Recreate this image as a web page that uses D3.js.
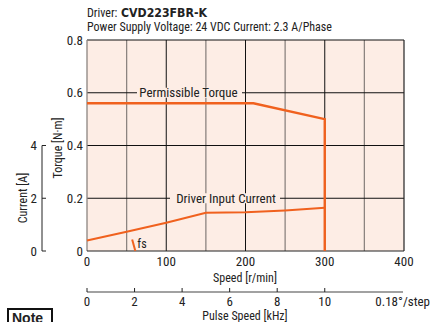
<!DOCTYPE html>
<html><head><meta charset="utf-8">
<script src="https://cdn.jsdelivr.net/npm/d3@7"></script>
<style>
body{margin:0;background:#fff;}
svg text{font-family:"Liberation Sans Narrow","Arial Narrow","Roboto Condensed",Roboto,sans-serif;fill:#222;}
</style></head><body>
<svg id="c" width="432" height="322"></svg>
<script>
const speedTicks=[0,100,200,300,400];
const torqueTicks=[0,0.2,0.4,0.6,0.8];
const currentTicks=[0,2,4];
const pulseTicks=[0,2,4,6,8,10];
const torqueSpeed=[0,210,300,300];
const torqueVals=[0.56,0.56,0.50,0];
const currentSpeed=[0,50,100,150,200,250,300];
const currentVals=[0.40,0.73,1.07,1.45,1.47,1.54,1.64];
const fsSpeed=[57,61];
const fsTorque=[0.044,0];

const svg=d3.select("#c");
const L=87,R=404,T=40,B=251;
const x=d3.scaleLinear().domain([0,400]).range([L,R]);
const y=d3.scaleLinear().domain([0,0.8]).range([B,T]);
const yc=d3.scaleLinear().domain([0,8]).range([B,T]);
const xp=d3.scaleLinear().domain([0,10*400/300]).range([L,R]);
const orange="#f0611e";

svg.append("rect").attr("x",L).attr("y",T).attr("width",R-L).attr("height",B-T).attr("fill","#fdede5");
d3.range(50,400,50).forEach(v=>{
  svg.append("line").attr("x1",x(v)).attr("x2",x(v)).attr("y1",T).attr("y2",B)
    .attr("stroke",v%100===0?"#111":"#8c8480").attr("stroke-width",v%100===0?1:1.3);
});
[0.2,0.4,0.6,0.8].forEach(v=>{
  svg.append("line").attr("x1",L).attr("x2",R).attr("y1",y(v)).attr("y2",y(v)).attr("stroke","#111").attr("stroke-width",1);
});
svg.append("line").attr("x1",L).attr("x2",L).attr("y1",T).attr("y2",B).attr("stroke","#8c8480").attr("stroke-width",1.3);
svg.append("line").attr("x1",R).attr("x2",R).attr("y1",T).attr("y2",B).attr("stroke","#222").attr("stroke-width",1.2);
svg.append("line").attr("x1",L).attr("x2",R).attr("y1",B).attr("y2",B).attr("stroke","#222").attr("stroke-width",1.2);

function gridLabel(txt,cx,cy,x0,x1){
  svg.append("rect").attr("x",x0).attr("y",cy-5).attr("width",x1-x0).attr("height",10).attr("fill","#fdede5");
  svg.append("text").attr("x",cx).attr("y",cy+4.5).attr("text-anchor","middle").attr("font-size",13).text(txt);
}
gridLabel("Permissible Torque",188.5,y(0.6),137,242);
gridLabel("Driver Input Current",226,y(0.2),170,280);

const lineT=d3.line().x((d,i)=>x(torqueSpeed[i])).y(d=>y(d));
svg.append("path").attr("d",lineT(torqueVals)).attr("fill","none").attr("stroke",orange).attr("stroke-width",2.4);
const lineC=d3.line().x((d,i)=>x(currentSpeed[i])).y(d=>yc(d));
svg.append("path").attr("d",lineC(currentVals)).attr("fill","none").attr("stroke",orange).attr("stroke-width",2);
const lineF=d3.line().x((d,i)=>x(fsSpeed[i])).y(d=>y(d));
svg.append("path").attr("d",lineF(fsTorque)).attr("fill","none").attr("stroke",orange).attr("stroke-width",2);
svg.append("text").attr("x",x(fsSpeed[1])+2).attr("y",B-3).attr("font-size",12).text("fs");

torqueTicks.forEach(v=>{
  svg.append("text").attr("x",L-4).attr("y",y(v)+4.5).attr("text-anchor","end").attr("font-size",13)
    .text(v===0?"0":d3.format(".1f")(v));
});
svg.append("text").attr("transform",`translate(62,148) rotate(-90)`).attr("text-anchor","middle").attr("font-size",12).text("Torque [N·m]");

const cx0=42;
svg.append("line").attr("x1",cx0).attr("x2",cx0).attr("y1",yc(4)).attr("y2",yc(0)).attr("stroke","#222");
currentTicks.forEach(v=>{
  svg.append("line").attr("x1",cx0).attr("x2",cx0+4).attr("y1",yc(v)).attr("y2",yc(v)).attr("stroke","#222");
  svg.append("text").attr("x",cx0-5).attr("y",yc(v)+4.5).attr("text-anchor","end").attr("font-size",13).text(v);
});
svg.append("text").attr("transform",`translate(27,198) rotate(-90)`).attr("text-anchor","middle").attr("font-size",12).text("Current [A]");

speedTicks.forEach(v=>{
  svg.append("text").attr("x",x(v)).attr("y",266).attr("text-anchor","middle").attr("font-size",13).text(v);
});
svg.append("text").attr("x",245).attr("y",282).attr("text-anchor","middle").attr("font-size",12).text("Speed [r/min]");

const py=292;
svg.append("line").attr("x1",L).attr("x2",R-1).attr("y1",py).attr("y2",py).attr("stroke","#444").attr("stroke-width",1.2);
pulseTicks.forEach(v=>{
  svg.append("line").attr("x1",xp(v)).attr("x2",xp(v)).attr("y1",py-4).attr("y2",py).attr("stroke","#222");
  svg.append("text").attr("x",xp(v)).attr("y",306).attr("text-anchor","middle").attr("font-size",13).text(v);
});
svg.append("text").attr("x",430).attr("y",306).attr("text-anchor","end").attr("font-size",13).text("0.18°/step");
svg.append("text").attr("x",245).attr("y",320).attr("text-anchor","middle").attr("font-size",12).text("Pulse Speed [kHz]");

const t1=svg.append("text").attr("x",87).attr("y",17).attr("font-size",12);
t1.append("tspan").text("Driver: ");
svg.append("text").attr("x",121).attr("y",17).attr("font-size",13).attr("textLength",86).attr("lengthAdjust","spacingAndGlyphs")
  .attr("style","font-family:'DejaVu Sans';font-weight:bold").text("CVD223FBR-K");
svg.append("text").attr("x",87).attr("y",31).attr("font-size",12).text("Power Supply Voltage: 24 VDC  Current: 2.3 A/Phase");

svg.append("rect").attr("x",8).attr("y",309).attr("width",44).attr("height",16).attr("fill","#fff").attr("stroke","#111").attr("stroke-width",2);
svg.append("text").attr("x",12).attr("y",323).attr("font-size",14).attr("style","font-family:'Liberation Sans';font-weight:bold").text("Note");
</script>
</body></html>
